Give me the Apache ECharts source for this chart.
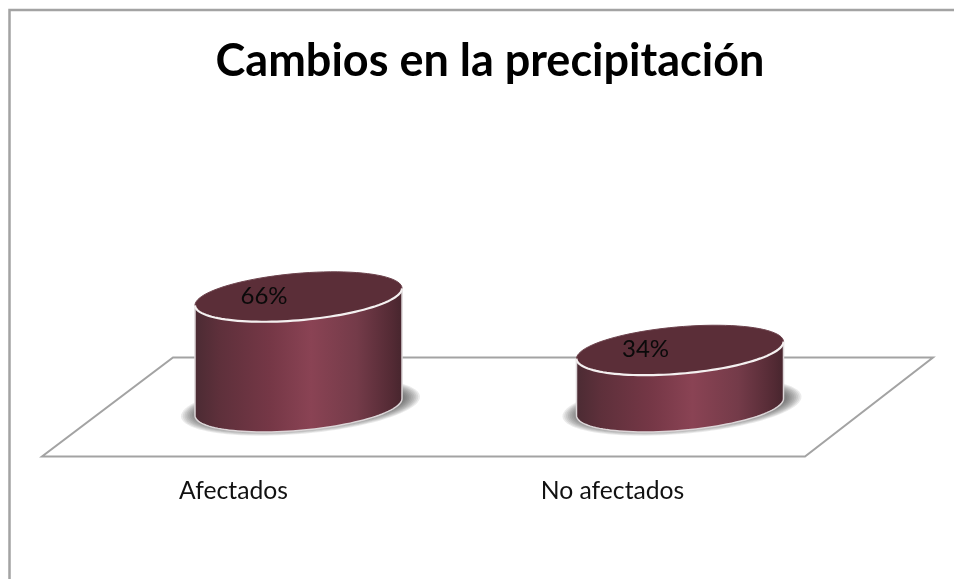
<!DOCTYPE html>
<html>
<head>
<meta charset="utf-8">
<style>html,body{margin:0;padding:0;background:#fff}#c{width:954px;height:579px}</style>
<script src="https://cdn.jsdelivr.net/npm/echarts@6/dist/echarts.min.js"></script>
</head>
<body>
<div id="c"></div>
<script>
const titleText = 'Cambios en la precipitación';
const categories = ['Afectados', 'No afectados'];
const percentValues = [66, 34];

const chart = echarts.init(document.getElementById('c'), null, {renderer: 'canvas'});

function ellipsePts(cx, cy, a, b, sk, from, to, n) {
  const pts = [];
  for (let i = 0; i <= n; i++) {
    const t = from + (to - from) * i / n;
    pts.push([cx + a * Math.cos(t), cy + b * Math.sin(t) - sk * a * Math.cos(t)]);
  }
  return pts;
}

function renderCylinder(params, api) {
  const v = api.value(1);
  const base = api.coord([api.value(0), 0]);
  const top = api.coord([api.value(0), v]);
  const a = api.size([1, 0])[0] * 0.2713;
  const b = 23.5, sk = 0.082;
  const cx = base[0];
  const lowerBase = ellipsePts(cx, base[1], a, b, sk, 0, Math.PI, 60);
  const body = [[cx + a, top[1] - sk * a]].concat(lowerBase, [[cx - a, top[1] + sk * a]]);
  const grad = new echarts.graphic.LinearGradient(0, 0, 1, 0, [
    {offset: 0, color: '#4b2b33'},
    {offset: 0.12, color: '#5e303b'},
    {offset: 0.36, color: '#753746'},
    {offset: 0.56, color: '#8a4354'},
    {offset: 0.78, color: '#743b49'},
    {offset: 0.95, color: '#532a34'},
    {offset: 1, color: '#46252d'}
  ]);
  const shadowLayers = [];
  for (let k = 0; k < 10; k++) {
    shadowLayers.push({
      type: 'polygon',
      shape: {points: ellipsePts(cx + 2, base[1] - 0.5, a + 16 - k * 1.8, b + 4 - k * 0.8, sk, 0, Math.PI * 2, 90)},
      style: {fill: 'rgba(60,60,60,0.1)'}
    });
  }
  return {
    type: 'group',
    children: shadowLayers.concat([
      {type: 'polygon', shape: {points: body},
       style: {fill: grad, stroke: '#dcd6d8', lineWidth: 1.5}},
      {type: 'polygon', shape: {points: ellipsePts(cx, top[1], a, b, sk, 0, Math.PI * 2, 90)},
       style: {fill: '#5b2e38', stroke: '#6d434d', lineWidth: 1}},
      {type: 'polyline', shape: {points: ellipsePts(cx, top[1], a, b, sk, 0, Math.PI, 60)},
       style: {fill: null, stroke: '#f4f0f0', lineWidth: 2.2}},
      {type: 'text', x: cx - 34.5, y: top[1] - 1,
       style: {text: v + '%', fill: '#0a0a0a', font: '24px Lato', align: 'center', verticalAlign: 'middle'}}
    ])
  };
}

const gray = '#a3a3a3';
chart.setOption({
  animation: false,
  backgroundColor: '#ffffff',
  title: {
    text: titleText, left: 485, top: 34, textAlign: 'center',
    textStyle: {fontFamily: 'Lato', fontWeight: 'bold', fontSize: 45, color: '#000'}
  },
  grid: {left: 107.75, width: 763, top: 240, height: 167},
  xAxis: {
    type: 'category', data: categories,
    axisLine: {show: false}, axisTick: {show: false}, splitLine: {show: false},
    axisLabel: {
      margin: 72, padding: [0, 130, 0, 0], fontFamily: 'Lato', fontSize: 24.7, color: '#111',
      formatter: (value, i) => '{c' + i + '|' + value + '}',
      rich: {
        c0: {fontFamily: 'Lato', fontSize: 24.7, color: '#111'},
        c1: {fontFamily: 'Lato', fontSize: 24.7, color: '#111', padding: [0, 5, 0, 0]}
      }
    }
  },
  yAxis: {type: 'value', min: 0, max: 100, show: false, splitLine: {show: false}},
  graphic: [
    {type: 'polyline', shape: {points: [[9.5, 579], [9.5, 10], [954, 10]]},
     style: {fill: null, stroke: gray, lineWidth: 2.5}},
    {type: 'polygon', shape: {points: [[42, 456.5], [805, 456.5], [933, 357.5], [173, 357.5]]},
     style: {fill: '#fff', stroke: gray, lineWidth: 2}}
  ],
  series: [{
    type: 'custom', renderItem: renderCylinder,
    encode: {x: 0, y: 1},
    data: categories.map((c, i) => [i, percentValues[i]])
  }]
});
</script>
</body>
</html>
